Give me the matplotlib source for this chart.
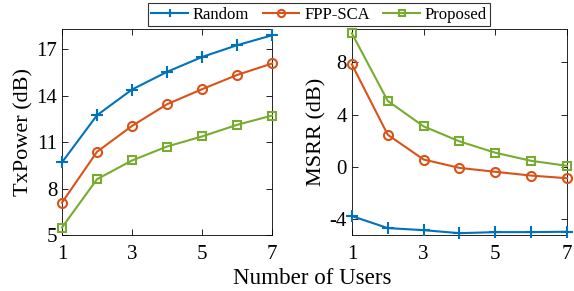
import matplotlib
matplotlib.use("Agg")
from matplotlib import pyplot as plt
import numpy as np

plt.rcParams['font.family'] = ['Liberation Serif', 'DejaVu Serif']
plt.rcParams['axes.unicode_minus'] = False

users = [1, 2, 3, 4, 5, 6, 7]

# TxPower (dB)
tx_random = [9.7, 12.74, 14.4, 15.54, 16.5, 17.26, 17.9]
tx_fpp = [7.1, 10.38, 12.05, 13.45, 14.42, 15.34, 16.08]
tx_prop = [5.49, 8.61, 9.82, 10.72, 11.37, 12.12, 12.72]

# MSRR (dB)
ms_random = [-3.77, -4.69, -4.85, -5.08, -5.0, -5.0, -4.97]
ms_fpp = [7.85, 2.46, 0.56, -0.08, -0.38, -0.67, -0.87]
ms_prop = [10.23, 5.05, 3.1, 1.95, 1.08, 0.46, 0.08]

labels = ['Random', 'FPP-SCA', 'Proposed']
colors = ['#0072BD', '#D95319', '#77AC30']
markers = ['+', 'o', 's']
msizes = [8, 6.5, 5.5]

fig = plt.figure(figsize=(5.74, 2.91), dpi=100)
ax1 = fig.add_axes([0.108, 0.192, 0.366, 0.708])
ax2 = fig.add_axes([0.613, 0.192, 0.375, 0.708])

lines = []
for ax, data in [(ax1, [tx_random, tx_fpp, tx_prop]), (ax2, [ms_random, ms_fpp, ms_prop])]:
    for d, c, m, s, lab in zip(data, colors, markers, msizes, labels):
        ln, = ax.plot(users, d, '-', color=c, marker=m, markersize=s,
                      markerfacecolor='none', markeredgewidth=1.5, linewidth=1.5,
                      label=lab, clip_on=False, zorder=3)
        if ax is ax1:
            lines.append(ln)
    ax.set_xlim(1, 7)
    ax.set_xticks([1, 3, 5, 7])
    ax.tick_params(direction='in', top=True, right=True, labelsize=15, length=4, width=0.6)
    ax.tick_params(axis='x', pad=7)
    for s in ax.spines.values():
        s.set_linewidth(0.6)

ax1.set_ylim(5, 18.3)
ax1.set_yticks([5, 8, 11, 14, 17])
ax1.set_ylabel('TxPower (dB)', fontsize=16, labelpad=2)

ax2.set_ylim(-5.23, 10.55)
ax2.set_yticks([-4, 0, 4, 8])
ax2.set_ylabel('MSRR (dB)', fontsize=16, labelpad=2)

fig.text(0.5445, 0.008, 'Number of Users', fontsize=16.6, ha='center', va='bottom')

leg = fig.legend(lines, labels, loc='upper center', bbox_to_anchor=(0.556, 1.0), ncol=3,
                 fontsize=12, frameon=True, fancybox=False, edgecolor='black',
                 borderpad=0.2, handlelength=2.2, columnspacing=0.8, handletextpad=0.3,
                 borderaxespad=0.2, markerscale=0.8)
leg.get_frame().set_linewidth(0.8)

fig.savefig('out.png', dpi=100)
